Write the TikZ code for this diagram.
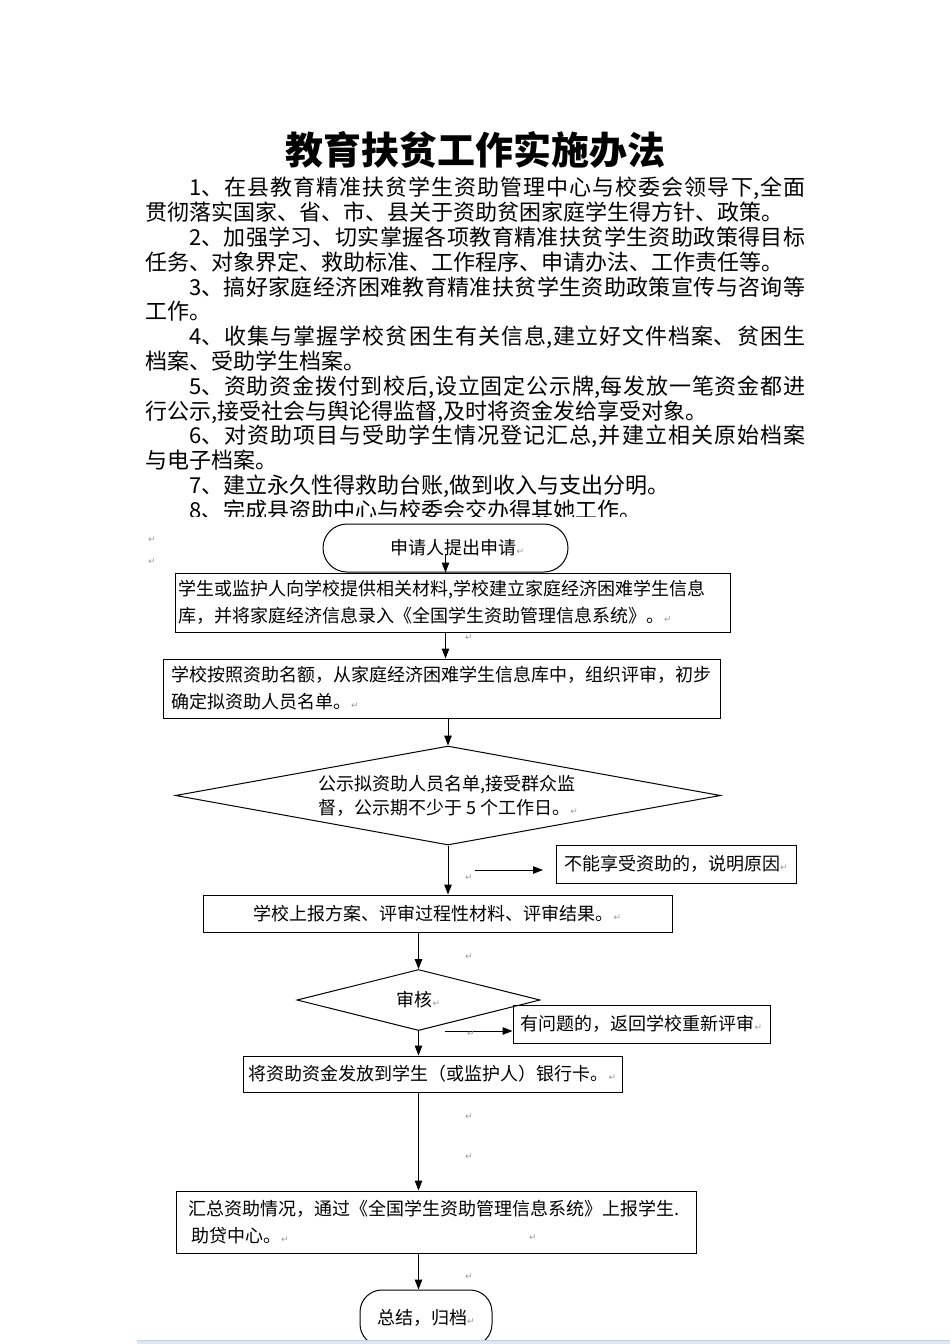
\documentclass[tikz,border=0pt]{standalone}
\usepackage{fontspec}
\usepackage{xcolor}
\usepackage{tikz}
\usetikzlibrary{arrows.meta,shapes.geometric}
\newfontfamily\cjk{Noto Sans CJK SC}
\newfontfamily\symb{DejaVu Sans}
\definecolor{bandblue}{RGB}{222,230,240}
\definecolor{bandedge}{RGB}{196,208,224}
\newcommand\pmk{{\symb\fontsize{9}{9}\selectfont\color{gray!80}↵}}

\begin{document}
\begin{tikzpicture}[x=1pt,y=-1pt,>={Stealth[length=10pt,width=7.5pt,inset=0pt]},
  txt/.style={font=\cjk\fontsize{18}{27}\selectfont},
  box/.style={txt,draw,line width=1pt,inner sep=0pt},
  term/.style={box,rounded corners=#1},
  dec/.style={box,diamond},
  flow/.style={->,line width=1pt}]
			\useasboundingbox (0,0) rectangle (950,1344);
			
			% title and text
			\node[font=\cjk\bfseries\fontsize{38}{38}\selectfont] (title) at (475,150) {教育扶贫工作实施办法};
			\begin{scope}
			\clip (0,0) rectangle (950,516);
			\node[anchor=north west,inner sep=0pt,text width=660pt,align=justify,
			font=\cjk\fontsize{22}{24.8}\selectfont] (rules) at (145,177) {%
				\XeTeXlinebreaklocale "zh"\XeTeXlinebreakskip=0pt plus 2pt\relax\parindent=0pt
				\hspace*{2em}1、在县教育精准扶贫学生资助管理中心与校委会领导下,全面\linebreak 贯彻落实国家、省、市、县关于资助贫困家庭学生得方针、政策。\par
				\hspace*{2em}2、加强学习、切实掌握各项教育精准扶贫学生资助政策得目标\linebreak 任务、对象界定、救助标准、工作程序、申请办法、工作责任等。\par
				\hspace*{2em}3、搞好家庭经济困难教育精准扶贫学生资助政策宣传与咨询等\linebreak 工作。\par
				\hspace*{2em}4、收集与掌握学校贫困生有关信息,建立好文件档案、贫困生\linebreak 档案、受助学生档案。\par
				\hspace*{2em}5、资助资金拨付到校后,设立固定公示牌,每发放一笔资金都进\linebreak 行公示,接受社会与舆论得监督,及时将资金发给享受对象。\par
				\hspace*{2em}6、对资助项目与受助学生情况登记汇总,并建立相关原始档案\linebreak 与电子档案。\par
				\hspace*{2em}7、建立永久性得救助台账,做到收入与支出分明。\par
				\hspace*{2em}8、完成县资助中心与校委会交办得其她工作。\par};
			\end{scope}
			
			% flow chart
			\node[term=24pt,minimum width=245pt,minimum height=48pt] (apply) at (445.5,548) {\hspace*{24pt}申请人提出申请\pmk};
			\node[box,minimum width=555pt,minimum height=59pt,text width=549pt,align=left] (collect) at (452.5,602.5)
			{学生或监护人向学校提供相关材料,学校建立家庭经济困难学生信息\\库，并将家庭经济信息录入《全国学生资助管理信息系统》。\pmk};
			\node[box,minimum width=557pt,minimum height=59pt,text width=541pt,align=left] (review) at (441.5,688.5)
			{学校按照资助名额，从家庭经济困难学生信息库中，组织评审，初步\\确定拟资助人员名单。\pmk};
			\node[dec,aspect=5.5,minimum width=545pt,minimum height=99pt,align=left,
			font=\cjk\fontsize{18}{24}\selectfont] (pub) at (448,795.5)
			{公示拟资助人员名单,接受群众监\\督，公示期不少于 5 个工作日。\pmk};
			\node[box,minimum width=240pt,minimum height=38pt] (reject) at (676,864) {不能享受资助的，说明原因\pmk};
			\node[box,minimum width=469pt,minimum height=37pt] (report) at (437.5,913.5) {学校上报方案、评审过程性材料、评审结果。\pmk};
			\node[dec,aspect=4,minimum width=243pt,minimum height=61pt] (check) at (418.5,1000) {审核\pmk};
			\node[box,minimum width=257pt,minimum height=38pt] (redo) at (641.5,1024) {有问题的，返回学校重新评审\pmk};
			\node[box,minimum width=379pt,minimum height=36pt] (payout) at (432.5,1074) {将资助资金发放到学生（或监护人）银行卡。\pmk};
			\node[box,minimum width=520pt,minimum height=62pt,text width=496pt,align=left] (summary) at (436,1222)
			{汇总资助情况，通过《全国学生资助管理信息系统》上报学生.\\\,助贷中心。\pmk};
			\node[term=22pt,minimum width=132pt,minimum height=56pt] (archive) at (426,1318) {总结，归档\pmk};
			
			\coordinate (rejtail) at (475,870);
			\coordinate (rejtip) at (543,870);
			\coordinate (redotail) at (445,1031);
			
			\draw[flow] ([yshift=-6pt]apply.center) -- (apply.center |- collect.north);
			\draw[flow] (collect.south -| apply.center) -- (apply.center |- review.north);
			\draw[flow] (review.south -| pub.north) -- (pub.north);
			\draw[flow] (pub.south) -- (pub.south |- report.north);
			\draw[flow] (rejtail) -- (rejtip);
			\draw[flow] (report.south -| check.north) -- (check.north);
			\draw[flow] (check.south) -- (check.south |- payout.north);
			\draw[flow] (redotail) -- (redo.west |- redotail);
			\draw[flow] (payout.south -| check.south) -- (check.south |- summary.north);
			\draw[flow] (summary.south -| check.south) -- (check.south |- archive.north);
			
			% paragraph marks
			\foreach \px/\py [count=\i] in {152/540,152/562,469/638,469/878,469/957,471/1034,469/1117,469/1157,533/1238,469/1277}
			\node[inner sep=0pt] (pm\i) at (\px,\py) {\pmk};
			
			% window edge
			\fill[bandblue] (137,1340) rectangle (950,1344);
			\draw[bandedge] (137,1340) -- (950,1340);
		\end{tikzpicture}
\end{document}
